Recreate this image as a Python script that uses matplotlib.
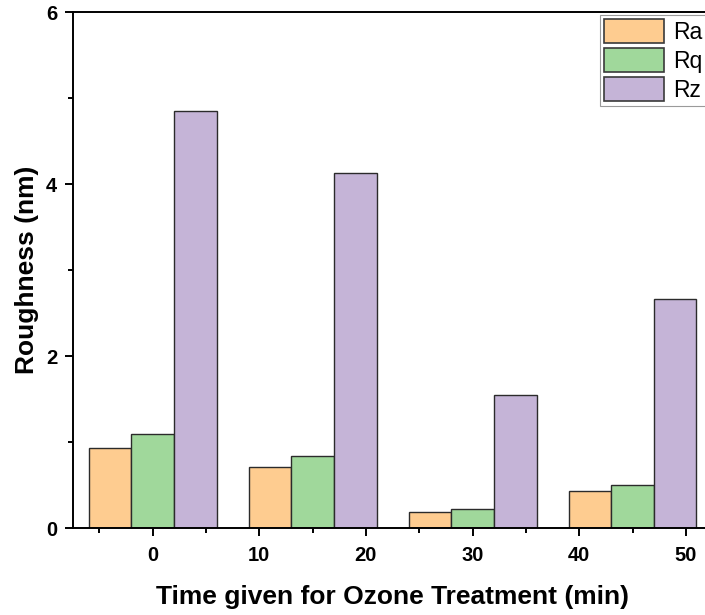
import matplotlib
matplotlib.use("Agg")
import matplotlib.pyplot as plt
from matplotlib.ticker import MultipleLocator
import numpy as np

# ---- data ----
times = [0, 15, 30, 45]
series_names = ["Ra", "Rq", "Rz"]
Ra = [0.934, 0.709, 0.186, 0.434]
Rq = [1.101, 0.840, 0.224, 0.504]
Rz = [4.849, 4.131, 1.555, 2.663]
x_ticks = [0, 10, 20, 30, 40, 50]
y_ticks = [0, 2, 4, 6]

colors = ["#FECC90", "#A0D89B", "#C5B4D7"]

plt.rcParams['font.family'] = ['Liberation Sans', 'DejaVu Sans']

W, H = 705, 615
fig = plt.figure(figsize=(W / 100, H / 100), dpi=100)
ax = fig.add_axes([72.5 / W, (H - 528.3) / H, 640 / W, 516 / H])

bar_w = 4
offsets = [-4, 0, 4]
t = np.array(times, dtype=float)
for vals, off, col, name in zip([Ra, Rq, Rz], offsets, colors, series_names):
    ax.bar(t + off, vals, width=bar_w, color=col, edgecolor="#2b2b2b",
           linewidth=1.0, label=name, zorder=2)

ax.set_xlim(-7.5, 52.5)
ax.set_ylim(0, 6)
ax.set_xticks(x_ticks)
ax.set_yticks(y_ticks)
ax.xaxis.set_minor_locator(MultipleLocator(5))
ax.yaxis.set_minor_locator(MultipleLocator(1))

for s in ["left", "bottom", "top"]:
    ax.spines[s].set_linewidth(1.4)
    ax.spines[s].set_color("black")
ax.spines["right"].set_visible(False)

ax.tick_params(axis="both", which="major", direction="out", length=6, width=1.4,
               labelsize=14.5, pad=5)
ax.tick_params(axis="x", which="major", pad=6.5)
ax.tick_params(axis="both", which="minor", direction="out", length=3.5, width=1.4)
ax.tick_params(top=False, right=False, which="both")
for lab in ax.get_xticklabels() + ax.get_yticklabels():
    lab.set_fontweight("bold")

ax.set_xlabel("Time given for Ozone Treatment (min)", fontsize=19,
              fontweight="bold", labelpad=15)
ax.set_ylabel("Roughness (nm)", fontsize=19, fontweight="bold", labelpad=5)

fs = 16.5
fpx = fs * 100 / 72
leg = fig.legend(loc="upper left", bbox_to_anchor=(600 / W, (H - 15) / H),
                 fontsize=fs, handlelength=60 / fpx, handleheight=29 / fpx,
                 labelspacing=4 / fpx, borderpad=4 / fpx, handletextpad=9 / fpx,
                 borderaxespad=0, fancybox=False, framealpha=1)
leg.get_frame().set_edgecolor("#9a9a9a")
leg.get_frame().set_linewidth(0.8)
for p in leg.get_patches():
    p.set_edgecolor("#3a3a3a")
    p.set_linewidth(1.2)

fig.savefig("out.png", dpi=100)
